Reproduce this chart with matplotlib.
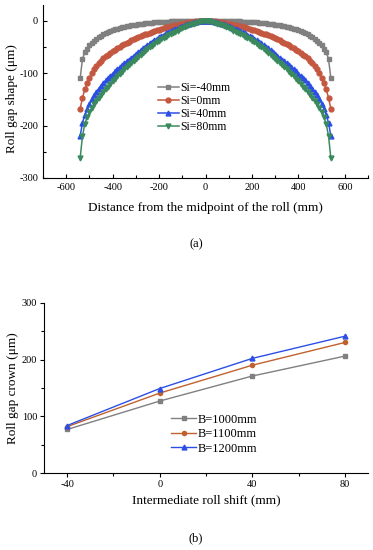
import matplotlib.pyplot as plt
import numpy as np
from matplotlib.ticker import MultipleLocator

plt.rcParams['font.family'] = ['Liberation Serif', 'DejaVu Serif']
plt.rcParams['axes.unicode_minus'] = False

# (a) roll gap shape, read at 0..540 mm every 10 mm (curves are symmetric about the midpoint)
half_pos = np.arange(0, 550, 10)
gap_si_m40 = [0, 0, 0, 0, -0.1, -0.1, -0.2, -0.3, -0.4, -0.5,
              -0.6, -0.7, -0.8, -0.9, -1.1, -1.3, -1.5, -1.7, -1.9, -2.2,
              -2.5, -2.8, -3.2, -3.6, -4.0, -4.4, -4.9, -5.4, -6.0, -6.6,
              -7.2, -7.9, -8.7, -9.5, -10.4, -11.4, -12.5, -13.7, -15.0, -16.4,
              -18.0, -19.7, -21.6, -23.7, -26.0, -28.6, -31.4, -34.5, -38.0, -42.0,
              -47.0, -53.0, -60.0, -73.0, -110.0]
gap_si_0 = [0, -0.1, -0.3, -0.6, -1.0, -1.5, -2.1, -2.8, -3.6, -4.4,
            -5.3, -6.2, -7.2, -8.2, -9.3, -10.4, -11.6, -12.8, -14.1, -15.4,
            -16.8, -18.2, -19.7, -21.2, -22.8, -24.4, -26.1, -27.8, -29.6, -31.5,
            -33.4, -35.4, -37.5, -39.7, -42.0, -44.4, -46.9, -49.5, -52.2, -55.0,
            -58.0, -61.2, -64.6, -68.2, -72.0, -76.1, -80.8, -86.5, -93.0, -100.5,
            -109.0, -119.0, -131.0, -147.0, -168.0]
gap_si_40 = [0, -0.2, -0.6, -1.3, -2.2, -3.2, -4.4, -5.7, -7.1, -8.6,
             -10.2, -11.9, -13.7, -15.6, -17.6, -19.7, -21.9, -24.2, -26.6, -29.1,
             -31.7, -34.4, -37.2, -40.1, -43.1, -46.2, -49.4, -52.7, -56.1, -59.6,
             -63.2, -66.9, -70.5, -74.0, -77.6, -81.3, -85.0, -88.8, -92.7, -96.7,
             -100.8, -105.0, -109.4, -114.0, -118.8, -123.9, -129.4, -135.4, -142.0, -149.5,
             -158.0, -168.0, -180.0, -195.0, -220.0]
gap_si_80 = [0, -0.3, -1.0, -2.2, -3.7, -5.3, -7.0, -8.8, -10.7, -12.6,
             -14.6, -16.7, -18.8, -21.0, -23.3, -25.6, -28.0, -30.5, -33.1, -35.8,
             -38.6, -41.5, -44.5, -47.6, -50.8, -54.1, -57.5, -61.0, -64.6, -68.3,
             -72.1, -76.0, -80.0, -84.1, -88.3, -92.6, -97.0, -101.5, -106.1, -110.8,
             -115.6, -120.5, -125.5, -130.6, -135.9, -141.4, -147.1, -153.1, -159.5, -166.5,
             -174.5, -184.0, -197.0, -220.0, -262.0]

# (b) roll gap crown
shift = [-40, 0, 40, 80]
crown_b1000 = [77, 127, 171, 206]
crown_b1100 = [82, 141, 190, 230]
crown_b1200 = [84, 149, 202, 241]

c_grey = '#808080'
c_red = '#c4573f'
c_blue = '#2b4fe6'
c_green = '#3b8a5e'


def full_curve(half_vals):
    pos = np.concatenate([-half_pos[:0:-1], half_pos])
    vals = np.concatenate([np.array(half_vals)[:0:-1], half_vals])
    return pos, vals


fig = plt.figure(figsize=(3.73, 5.5), dpi=100)

# ---- (a)
ax1 = fig.add_axes([0.1153, 0.6764, 0.8713, 0.3145])
series_a = [(gap_si_m40, c_grey, 's', 'Si=-40mm'),
            (gap_si_0, c_red, 'o', 'Si=0mm'),
            (gap_si_40, c_blue, '^', 'Si=40mm'),
            (gap_si_80, c_green, 'v', 'Si=80mm')]
for vals, col, mk, lab in series_a:
    x, y = full_curve(vals)
    ax1.plot(x, y, color=col, marker=mk, markersize=3.5, linewidth=1.1, label=lab)
ax1.set_xlim(-700, 700)
ax1.set_ylim(-300, 30)
ax1.xaxis.set_major_locator(MultipleLocator(200))
ax1.xaxis.set_minor_locator(MultipleLocator(100))
ax1.yaxis.set_major_locator(MultipleLocator(100))
ax1.yaxis.set_minor_locator(MultipleLocator(50))
ax1.tick_params(which='both', direction='in', labelsize=7.5, width=0.8)
ax1.tick_params(which='major', length=3)
ax1.tick_params(which='minor', length=2)
ax1.spines['top'].set_visible(False)
ax1.spines['right'].set_visible(False)
ax1.set_xlabel('Distance from the midpoint of the roll (mm)', fontsize=9.5, labelpad=7)
ax1.set_ylabel('Roll gap shape (μm)', fontsize=9.5)
ax1.yaxis.set_label_coords(-0.077, 0.46)
ax1.legend(loc='upper left', bbox_to_anchor=(0.335, 0.59), frameon=False, fontsize=8.5,
           handlelength=1.8, handletextpad=0.1, labelspacing=0.1, borderpad=0)
fig.text(0.525, 0.555, '(a)', ha='center', va='center', fontsize=9)

# ---- (b)
ax2 = fig.add_axes([0.118, 0.1395, 0.8686, 0.3102])
ax2.plot(shift, crown_b1000, color=c_grey, marker='s', markersize=3, linewidth=1.0, label='B=1000mm')
ax2.plot(shift, crown_b1100, color='#c0622e', marker='o', markersize=3, linewidth=1.0, label='B=1100mm')
ax2.plot(shift, crown_b1200, color=c_blue, marker='^', markersize=3.5, linewidth=1.0, label='B=1200mm')
ax2.set_xlim(-50, 90)
ax2.set_ylim(0, 300)
ax2.set_xticks(shift)
ax2.xaxis.set_minor_locator(MultipleLocator(20))
ax2.yaxis.set_major_locator(MultipleLocator(100))
ax2.yaxis.set_minor_locator(MultipleLocator(50))
ax2.tick_params(which='both', direction='out', labelsize=7.5, width=0.8)
ax2.tick_params(which='major', length=3)
ax2.tick_params(which='minor', length=2)
ax2.tick_params(axis='x', pad=1.5)
ax2.tick_params(axis='y', pad=2)
ax2.spines['top'].set_visible(False)
ax2.spines['right'].set_visible(False)
ax2.set_xlabel('Intermediate roll shift (mm)', fontsize=9.5, labelpad=4)
ax2.set_ylabel('Roll gap crown (μm)', fontsize=9.5)
ax2.yaxis.set_label_coords(-0.077, 0.5)
ax2.legend(loc='upper left', bbox_to_anchor=(0.373, 0.385), frameon=False, fontsize=9,
           handlelength=2.0, handletextpad=0.1, labelspacing=0.2, borderpad=0)
fig.text(0.525, 0.022, '(b)', ha='center', va='center', fontsize=9)

fig.savefig('out.png', dpi=100)
